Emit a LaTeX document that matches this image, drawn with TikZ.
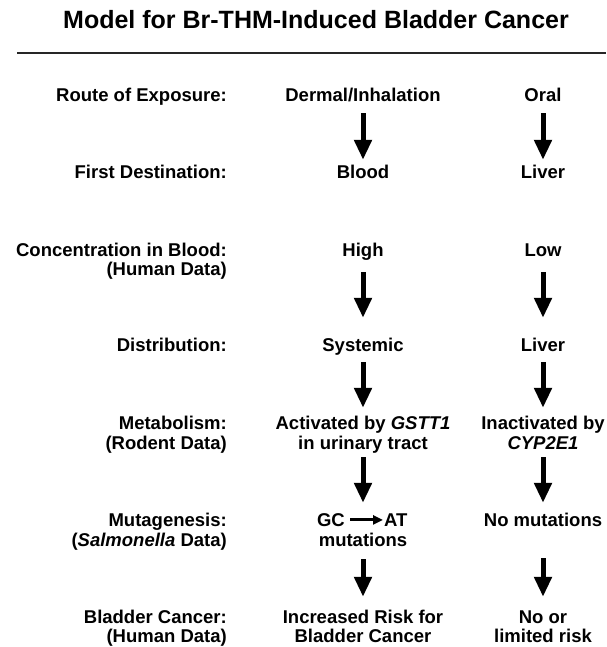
\documentclass[tikz,border=0pt]{standalone}
\usepackage{fontspec}
\setmainfont{Liberation Sans}
\usetikzlibrary{arrows.meta}

\begin{document}
\begin{tikzpicture}
[x=1pt,y=-1pt,
lbl/.style={font=\bfseries\fontsize{18.5}{19.5}\selectfont,align=right,anchor=base east,inner sep=0pt},
txt/.style={font=\bfseries\fontsize{18.5}{19.5}\selectfont,anchor=base,inner sep=0pt,text height=13.5pt,text depth=4pt},
gcat/.style={text height=13.2pt,text depth=0pt},
arr/.style={line width=5pt,-{Triangle[width=17pt,length=20pt]}},
smallarr/.style={line width=3pt,-{Triangle[width=9pt,length=10pt]}}]
\useasboundingbox (0,0) rectangle (606,647);
\node[font=\bfseries\fontsize{25}{30}\selectfont,anchor=base,inner sep=0pt] (title) at (316,29) {Model for Br-THM-Induced Bladder Cancer};
\coordinate (rl) at (17,53); \coordinate (rr) at (606,53);
\draw[line width=1.6pt,black!85] (rl) -- (rr);
\node[lbl] (route) at (227,101.5) {Route of Exposure:};
\node[lbl] (first) at (227,178.5) {First Destination:};
\node[lbl] (conc) at (227,275.5) {Concentration in Blood:\\(Human Data)};
\node[lbl] (distr) at (227,351.5) {Distribution:};
\node[lbl] (metab) at (227,449) {Metabolism:\\(Rodent Data)};
\node[lbl] (mutag) at (227,546) {Mutagenesis:\\(\textit{Salmonella} Data)};
\node[lbl] (bladd) at (227,642.5) {Bladder Cancer:\\(Human Data)};
\node[txt] (dermal) at (363,101.5) {Dermal/Inhalation};
\node[txt] (blood) at (363,178.5) {Blood};
\node[txt] (high) at (363,256) {High};
\node[txt] (syst) at (363,351.5) {Systemic};
\node[txt] (act) at (363,429.5) {Activated by \textit{GSTT1}};
\node[txt] (urin) at (363,449) {in urinary tract};
\node[txt,gcat,anchor=base east] (gc) at (345,526.5) {GC};
\node[txt,gcat,anchor=base west] (at) at (384,526.5) {AT};
\node[txt] (muts) at (363,546) {mutations};
\node[txt] (incr) at (363,623) {Increased Risk for};
\node[txt] (bc) at (363,642.5) {Bladder Cancer};
\node[txt] (oral) at (543,101.5) {Oral};
\node[txt] (liver) at (543,178.5) {Liver};
\node[txt] (low) at (543,256) {Low};
\node[txt] (lvr) at (543,351.5) {Liver};
\node[txt] (inact) at (543,429.5) {Inactivated by};
\node[txt] (cyp) at (543,449) {\textit{CYP2E1}};
\node[txt] (nomut) at (543,526.5) {No mutations};
\node[txt] (noor) at (543,623) {No or};
\node[txt] (limit) at (543,642.5) {limited risk};
\draw[arr,shorten <=7.5pt,shorten >=5pt] (dermal.south) -- (blood.north);
\draw[arr,shorten <=12pt,shorten >=20pt] (high.south) -- (syst.north);
\draw[arr,shorten <=6.5pt,shorten >=8pt] (syst.south) -- (act.north);
\draw[arr,shorten <=4pt,shorten >=10.3pt] (urin.south) -- (urin.south |- gc.north);
\draw[arr,shorten <=9pt,shorten >=12.5pt] (muts.south) -- (incr.north);
\draw[smallarr,shorten <=5pt,shorten >=1pt] (gc.east) -- (at.west);
\draw[arr,shorten <=7.5pt,shorten >=5pt] (oral.south) -- (liver.north);
\draw[arr,shorten <=12pt,shorten >=20pt] (low.south) -- (lvr.north);
\draw[arr,shorten <=6.5pt,shorten >=8pt] (lvr.south) -- (inact.north);
\draw[arr,shorten <=4pt,shorten >=10pt] (cyp.south) -- (nomut.north);
\draw[arr,shorten <=27.5pt,shorten >=12.5pt] (nomut.south) -- (noor.north);
\end{tikzpicture}
\end{document}
